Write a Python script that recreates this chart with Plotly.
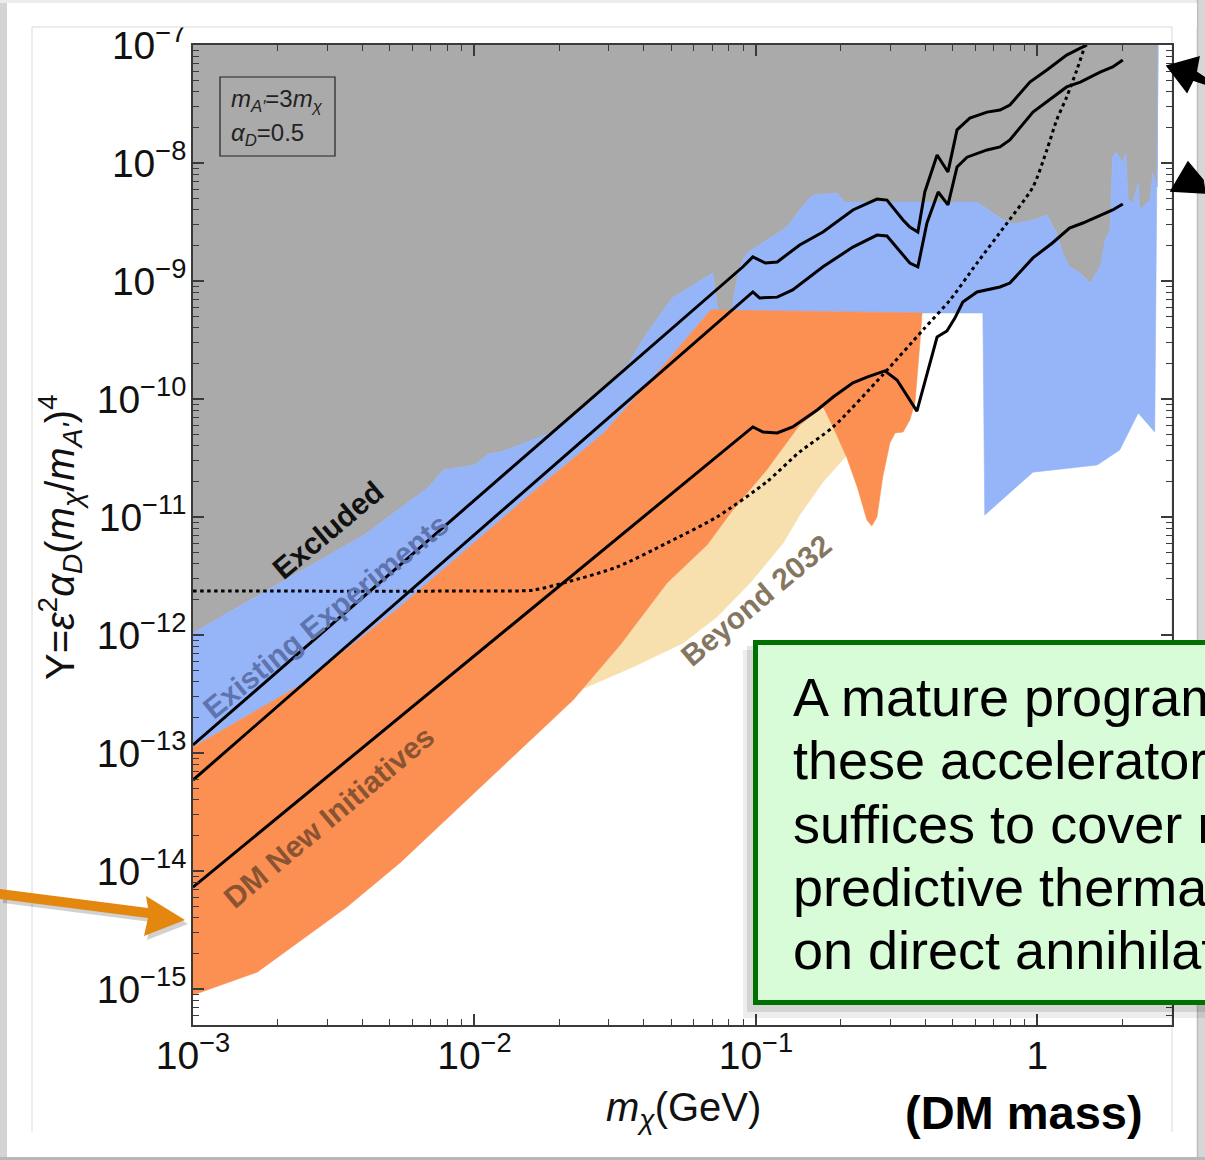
import plotly.graph_objects as go

# ---------------- data (mass in GeV, Y = eps^2 alpha_D (m_chi/m_A')^4) ----------------
# lower edge of the excluded (grey) region = upper edge of existing-experiment limits
excl_edge_m = [1.0e-3, 1.79e-3, 4.05e-3, 6.89e-3, 7.73e-3, 1.00e-2, 1.12e-2, 1.27e-2, 1.85e-2,
               2.49e-2, 3.54e-2, 4.10e-2, 5.04e-2, 7.03e-2, 7.26e-2, 7.64e-2, 8.09e-2, 8.55e-2,
               8.91e-2, 9.29e-2, 0.129, 0.143, 0.159, 0.194, 0.207, 0.610, 0.736, 0.818, 0.964,
               1.08, 1.17, 1.23, 1.30, 1.42, 1.54, 1.67, 1.74, 1.81, 1.85, 1.91, 2.00, 2.06, 2.10,
               2.18, 2.28, 2.31, 2.51, 2.57, 2.66, 2.68]
excl_edge_y = [1.04e-12, 2.31e-12, 7.03e-12, 1.80e-11, 2.50e-11, 2.76e-11, 3.42e-11, 3.62e-11,
               5.15e-11, 8.55e-11, 2.02e-10, 3.62e-10, 7.18e-10, 1.17e-9, 6.51e-10, 3.16e-10,
               4.67e-10, 1.02e-9, 1.45e-9, 1.73e-9, 2.87e-9, 4.00e-9, 5.36e-9, 5.57e-9, 4.67e-9,
               4.67e-9, 3.42e-9, 3.04e-9, 3.29e-9, 3.62e-9, 2.55e-9, 1.73e-9, 1.32e-9, 1.17e-9,
               9.6e-10, 1.32e-9, 2.22e-9, 2.70e-9, 1.12e-8, 1.24e-8, 1.0e-8, 1.22e-8, 4.85e-9,
               4.58e-9, 6.78e-9, 4.0e-9, 4.85e-9, 8.22e-9, 6.27e-9, 1.0e-7]

# lower edge of the existing-experiment region on the high-mass side
exist_low_m = [2.61, 2.28, 1.96, 1.63, 0.964, 0.650, 0.640, 0.389]
exist_low_y = [5.25e-11, 7.6e-11, 3.70e-11, 2.76e-11, 2.40e-11, 1.04e-11, 5.36e-10, 5.36e-10]

# DM New Initiatives reach (upper edge, then right edge / lower edge back to the left)
dmni_upper_m = [1.0e-3, 2.48e-3, 5.43e-3, 1.60e-2, 2.88e-2, 4.45e-2, 6.92e-2, 0.389]
dmni_upper_y = [1.12e-13, 3.92e-13, 1.73e-12, 1.60e-11, 5.15e-11, 1.66e-10, 5.68e-10, 5.36e-10]
dmni_lower_m = [0.383, 0.367, 0.352, 0.333, 0.312, 0.299, 0.282, 0.269, 0.258, 0.248, 0.229,
                0.210, 0.188, 0.173, 0.143, 0.109, 8.28e-2, 6.70e-2, 4.83e-2, 3.29e-2, 2.24e-2,
                5.43e-3, 3.52e-3, 1.69e-3, 1.0e-3]
dmni_lower_y = [3.16e-10, 9.25e-11, 6.64e-11, 5.25e-11, 5.15e-11, 4.24e-11, 2.18e-11, 1.0e-11,
                8.4e-12, 9.4e-12, 1.80e-11, 3.22e-11, 5.8e-11, 8.55e-11, 6.03e-11, 2.50e-11,
                1.15e-11, 5.8e-12, 2.76e-12, 8.22e-13, 2.81e-13, 1.17e-14, 4.95e-15, 1.39e-15,
                8.9e-16]

# Beyond 2032 reach
beyond_m = [2.24e-2, 2.37e-2, 3.66e-2, 5.51e-2, 7.26e-2, 9.53e-2, 0.125, 0.143, 0.173, 0.209,
            0.194, 0.169, 0.143, 0.109, 8.28e-2, 6.70e-2, 4.83e-2, 3.29e-2]
beyond_y = [2.81e-13, 3.42e-13, 5.36e-13, 8.55e-13, 1.42e-12, 2.76e-12, 6.03e-12, 1.04e-11,
            1.98e-11, 3.29e-11, 5.15e-11, 8.9e-11, 6.03e-11, 2.50e-11, 1.15e-11, 5.8e-12,
            2.76e-12, 8.22e-13]

# thermal targets (solid black curves)
target1_m = [1.0e-3, 8.99e-2, 9.75e-2, 0.108, 0.119, 0.143, 0.173, 0.221, 0.269, 0.292, 0.333,
             0.352, 0.376, 0.398, 0.440, 0.481, 0.518, 0.575, 0.662, 0.736, 0.798, 0.940, 1.08,
             1.27, 1.42, 1.50]
target1_y = [1.17e-13, 1.32e-9, 1.60e-9, 1.42e-9, 1.45e-9, 2.02e-9, 2.60e-9, 4.0e-9, 4.95e-9,
             4.85e-9, 3.29e-9, 2.87e-9, 2.60e-9, 5.68e-9, 1.17e-8, 8.4e-9, 1.91e-8, 2.40e-8,
             2.70e-8, 2.81e-8, 3.10e-8, 4.85e-8, 6.14e-8, 8.22e-8, 9.4e-8, 1.0e-7]

target2_m = [1.0e-3, 9.75e-2, 0.103, 0.119, 0.135, 0.173, 0.221, 0.269, 0.292, 0.333, 0.352,
             0.376, 0.405, 0.444, 0.481, 0.518, 0.562, 0.662, 0.736, 0.798, 0.964, 1.27, 1.42,
             1.67, 1.85, 2.01]
target2_y = [5.9e-14, 8.07e-10, 7.18e-10, 7.3e-10, 8.4e-10, 1.32e-9, 1.94e-9, 2.45e-9, 2.41e-9,
             1.66e-9, 1.42e-9, 1.32e-9, 3.10e-9, 5.68e-9, 4.41e-9, 9.25e-9, 1.12e-8, 1.29e-8,
             1.37e-8, 1.57e-8, 2.70e-8, 4.41e-8, 4.85e-8, 5.9e-8, 6.51e-8, 7.46e-8]

target3_m = [1.0e-3, 9.75e-2, 0.106, 0.119, 0.135, 0.165, 0.188, 0.221, 0.248, 0.287, 0.317,
             0.373, 0.440, 0.477, 0.509, 0.543, 0.610, 0.736, 0.798, 0.964, 1.13, 1.30, 1.45,
             1.67, 1.85, 2.01]
target3_y = [7.3e-15, 5.8e-11, 5.25e-11, 5.15e-11, 5.8e-11, 8.07e-11, 1.04e-10, 1.37e-10,
             1.53e-10, 1.73e-10, 1.45e-10, 7.9e-11, 3.35e-10, 3.77e-10, 4.85e-10, 6.64e-10,
             8.07e-10, 8.9e-10, 9.6e-10, 1.57e-9, 2.10e-9, 2.81e-9, 3.10e-9, 3.62e-9, 4.0e-9,
             4.50e-9]

# dotted curve
dotted_m = [1.0e-3, 1.0e-2, 1.61e-2, 2.13e-2, 3.21e-2, 4.83e-2, 7.26e-2, 0.109, 0.143, 0.188,
            0.282, 0.392, 0.489, 0.610, 0.780, 0.964, 1.08, 1.17, 1.27, 1.38, 1.47]
dotted_y = [2.36e-12, 2.36e-12, 2.4e-12, 2.81e-12, 3.77e-12, 6.03e-12, 1.0e-11, 1.98e-11,
            3.56e-11, 5.8e-11, 1.60e-10, 3.85e-10, 6.9e-10, 1.42e-9, 3.10e-9, 6.27e-9, 1.29e-8,
            2.31e-8, 3.62e-8, 6.14e-8, 9.6e-8]

y_exponents = list(range(-15, -6))
x_tick_vals = [1e-3, 1e-2, 1e-1, 1.0]
x_tick_text = ["10<sup>−3</sup>", "10<sup>−2</sup>", "10<sup>−1</sup>", "1"]

box_lines = ["A mature program", "these accelerator", "suffices to cover r",
             "predictive therma", "on direct annihilat"]

# ---------------- layout geometry ----------------
W, H = 1205, 1160
ML, MR, MT, MB = 193, 33, 45, 135
PW, PH = W - ML - MR, H - MT - MB
FONT = "Liberation Sans, Arial, Helvetica, sans-serif"


def px(x):
    return (x - ML) / PW


def py(y):
    return (H - MB - y) / PH


def poly_path(points):
    return "M " + " L ".join(f"{px(a):.5f},{py(b):.5f}" for a, b in points) + " Z"


GREY = "#aaaaaa"
BLUE = "#96b4f8"
ORANGE = "#fc8f52"
BEIGE = "#f7e0ae"

fig = go.Figure()


def area(xs, ys, color):
    fig.add_trace(go.Scatter(x=xs, y=ys, mode="lines", fill="toself", fillcolor=color,
                             line=dict(width=0.6, color=color), hoverinfo="skip",
                             showlegend=False))


area([1e-3] + excl_edge_m, [1e-7] + excl_edge_y, GREY)
area(excl_edge_m + exist_low_m + dmni_upper_m[::-1],
     excl_edge_y + exist_low_y + dmni_upper_y[::-1], BLUE)
area(beyond_m, beyond_y, BEIGE)
area(dmni_upper_m + dmni_lower_m, dmni_upper_y + dmni_lower_y, ORANGE)

fig.add_trace(go.Scatter(x=dotted_m, y=dotted_y, mode="lines", hoverinfo="skip",
                         showlegend=False, line=dict(color="black", width=3,
                                                     dash="3.5px,3.5px", shape="spline",
                                                     smoothing=0.7)))
for tm, ty in [(target1_m, target1_y), (target2_m, target2_y), (target3_m, target3_y)]:
    fig.add_trace(go.Scatter(x=tm, y=ty, mode="lines", hoverinfo="skip", showlegend=False,
                             line=dict(color="black", width=3)))

# ---------------- axes ----------------
AX_COL = "#3a3a3a"
y_minor = [k * 10.0 ** e for e in range(-16, -7) for k in range(2, 10)
           if 10 ** -15.3 <= k * 10.0 ** e <= 1e-7]
x_minor = [k * 10.0 ** e for e in range(-3, 1) for k in range(2, 10) if k * 10.0 ** e <= 3.0]

common = dict(type="log", showgrid=False, zeroline=False, showline=True, linecolor=AX_COL,
              linewidth=1.6, mirror="ticks", ticks="inside", ticklen=11, tickwidth=1.5,
              tickcolor=AX_COL, tickfont=dict(family=FONT, size=39, color="#111111"),
              tickmode="array")
fig.update_xaxes(**common, range=[-3, 0.478], tickvals=x_tick_vals, ticktext=x_tick_text,
                 ticklabelstandoff=-5,
                 minor=dict(ticks="inside", ticklen=6, tickwidth=1.2, tickcolor=AX_COL,
                            tickmode="array", tickvals=x_minor))
fig.update_yaxes(**common, range=[-15.305, -7],
                 tickvals=[10.0 ** e for e in y_exponents],
                 ticktext=[f"10<sup>−{-e}</sup>" for e in y_exponents],
                 ticklabelstandoff=-3,
                 minor=dict(ticks="inside", ticklen=6, tickwidth=1.2, tickcolor=AX_COL,
                            tickmode="array", tickvals=y_minor))

# ---------------- decorations ----------------
shapes = []
# slide frame and panel
shapes += [
    dict(type="rect", xref="paper", yref="paper", x0=px(0), x1=px(7), y0=py(0), y1=py(H),
         fillcolor="#d4d4d4", line_width=0, layer="below"),
    dict(type="rect", xref="paper", yref="paper", x0=px(0), x1=px(W), y0=py(0), y1=py(3),
         fillcolor="#ececec", line_width=0, layer="below"),
    dict(type="rect", xref="paper", yref="paper", x0=px(1198), x1=px(W), y0=py(0), y1=py(H),
         fillcolor="#d6d6d6", line_width=0, layer="below"),
    dict(type="rect", xref="paper", yref="paper", x0=px(0), x1=px(W), y0=py(1157), y1=py(H),
         fillcolor="#b8b8b8", line_width=0, layer="below"),
    dict(type="line", xref="paper", yref="paper", x0=px(1197.5), x1=px(1197.5), y0=py(0),
         y1=py(1158), line=dict(color="#bdbdbd", width=1.5), layer="below"),
    dict(type="line", xref="paper", yref="paper", x0=px(32), x1=px(32), y0=py(27),
         y1=py(1132), line=dict(color="#d9d9d9", width=1), layer="below"),
    dict(type="line", xref="paper", yref="paper", x0=px(1172), x1=px(1172), y0=py(27),
         y1=py(1132), line=dict(color="#d9d9d9", width=1), layer="below"),
    # cover clipping the top tick label at the panel edge
    dict(type="rect", xref="paper", yref="paper", x0=px(8), x1=px(1197), y0=py(3.5),
         y1=py(27), fillcolor="white", line_width=0, layer="above"),
    dict(type="line", xref="paper", yref="paper", x0=px(32), x1=px(1172), y0=py(27),
         y1=py(27), line=dict(color="#d9d9d9", width=1.2), layer="above"),
]
# parameter box
shapes.append(dict(type="rect", xref="paper", yref="paper", x0=px(220), x1=px(335),
                   y0=py(156), y1=py(77), line=dict(color="#222222", width=1.2),
                   fillcolor="rgba(0,0,0,0)", layer="above"))
# orange pointer arrow with a soft shadow
arrow_pts = [(0, 889), (148, 908), (146, 896), (185, 920), (144, 936), (148, 918), (0, 899)]
shapes.append(dict(type="path", xref="paper", yref="paper",
                   path=poly_path([(a + 3, b + 4) for a, b in arrow_pts]),
                   fillcolor="rgba(0,0,0,0.18)", line_width=0, layer="above"))
shapes.append(dict(type="path", xref="paper", yref="paper", path=poly_path(arrow_pts),
                   fillcolor="#e3870e", line_width=0, layer="above"))
# hand-drawn black arrow heads on the right
shapes.append(dict(type="path", xref="paper", yref="paper",
                   path=poly_path([(1167, 66), (1199, 57), (1196, 72), (1205, 78), (1205, 84),
                                   (1193, 80), (1187, 92)]),
                   fillcolor="black", line=dict(color="black", width=1.5), layer="above"))
shapes.append(dict(type="path", xref="paper", yref="paper",
                   path=poly_path([(1171, 191), (1188, 162), (1203, 180), (1205, 193)]),
                   fillcolor="black", line=dict(color="black", width=1.5), layer="above"))
# green text box with shadow
shapes += [
    dict(type="rect", xref="paper", yref="paper", x0=px(743), x1=px(1230), y0=py(650),
         y1=py(1018), fillcolor="rgba(0,0,0,0.07)", line_width=0, layer="above"),
    dict(type="rect", xref="paper", yref="paper", x0=px(747), x1=px(1230), y0=py(646),
         y1=py(1012), fillcolor="rgba(0,0,0,0.10)", line_width=0, layer="above"),
    dict(type="rect", xref="paper", yref="paper", x0=px(755.5), x1=px(1230), y0=py(642.5),
         y1=py(1002.5), fillcolor="#d8fcd8", line=dict(color="#007000", width=5),
         layer="above"),
]

ann = []


def label(x, y, text, size, color="#111111", angle=0, xanchor="center"):
    ann.append(dict(xref="paper", yref="paper", x=px(x), y=py(y), text=text, showarrow=False,
                    textangle=angle, xanchor=xanchor, yanchor="middle",
                    font=dict(family=FONT, size=size, color=color)))


label(60, 537, "Y=<i>ε</i><sup>2</sup><i>α</i><sub><i>D</i></sub>(<i>m</i><sub><i>χ</i></sub>/"
      "<i>m</i><sub><i>A'</i></sub>)<sup>4</sup>", 40, angle=-90)
label(683, 1110, "<i>m</i><sub><i>χ</i></sub>(GeV)", 40)
label(1024, 1112, "<b>(DM mass)</b>", 47, color="#000000")
label(229, 100, "<i>m</i><sub><i>A′</i></sub>=3<i>m</i><sub><i>χ</i></sub>", 24,
      color="#222222", xanchor="left")
label(229, 134, "<i>α</i><sub><i>D</i></sub>=0.5", 24, color="#222222", xanchor="left")
label(327, 530, "<b>Excluded</b>", 30, color="#111111", angle=-40)
label(325, 616, "<b>Existing Experiments</b>", 30, color="#5f74ae", angle=-39)
label(328, 817, "<b>DM New Initiatives</b>", 30, color="#8a5432", angle=-40)
label(756, 601, "<b>Beyond 2032</b>", 30, color="#85765f", angle=-40)
for i, line in enumerate(box_lines):
    label(791, 697 + 63.3 * i, line, 54, color="#000000", xanchor="left")

fig.update_layout(width=W, height=H, margin=dict(l=ML, r=MR, t=MT, b=MB, autoexpand=False),
                  paper_bgcolor="white", plot_bgcolor="white", shapes=shapes,
                  annotations=ann, showlegend=False, hovermode=False,
                  font=dict(family=FONT))

fig.write_html("out.html")
